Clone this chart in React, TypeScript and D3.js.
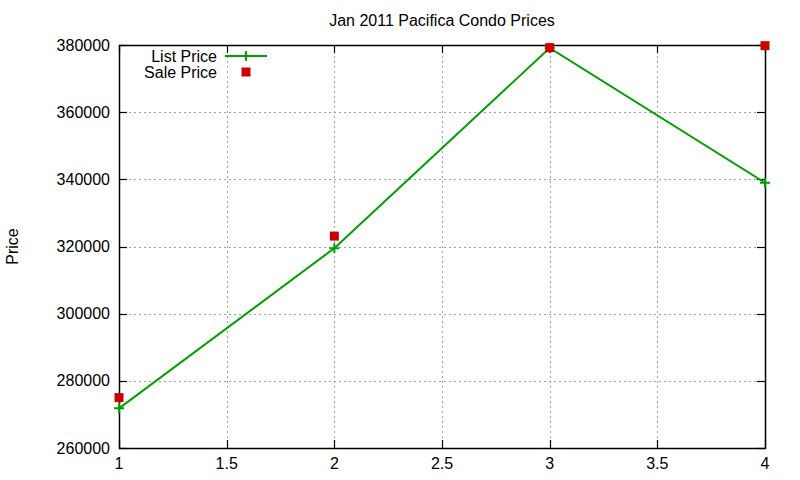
import React, { useEffect, useRef } from 'react';
import * as d3 from 'd3';

// Data
const months: number[] = [1, 2, 3, 4];
const listPrices: number[] = [271800, 319500, 379100, 339000];
const salePrices: number[] = [275000, 323100, 379200, 379800];

const xTicks: number[] = [1, 1.5, 2, 2.5, 3, 3.5, 4];
const yTicks: number[] = [260000, 280000, 300000, 320000, 340000, 360000, 380000];

const title = 'Jan 2011 Pacifica Condo Prices';
const yLabel = 'Price';
const seriesNames: string[] = ['List Price', 'Sale Price'];

const GREEN = '#00a000';
const RED = '#cc0000';

const App: React.FC = () => {
  const svgRef = useRef<SVGSVGElement>(null);

  useEffect(() => {
    if (!svgRef.current) return;
    const svg = d3.select(svgRef.current);
    svg.selectAll('*').remove();

    const width = 800;
    const height = 480;
    const margin = { top: 45, right: 35, bottom: 32, left: 119 };
    const font = 'Liberation Sans, Arial, sans-serif';
    const fontSize = '16px';

    const x = d3.scaleLinear().domain([1, 4]).range([margin.left, width - margin.right]);
    const y = d3.scaleLinear().domain([260000, 380000]).range([height - margin.bottom, margin.top]);

    svg.append('rect').attr('width', width).attr('height', height).style('fill', '#fff');

    // Grid lines
    const grid = svg.append('g').attr('class', 'grid');
    grid.selectAll('.gx')
      .data(xTicks.slice(1, -1))
      .enter().append('line')
      .attr('x1', d => Math.round(x(d)) + 0.5).attr('x2', d => Math.round(x(d)) + 0.5)
      .attr('y1', y.range()[0]).attr('y2', y.range()[1])
      .style('stroke', '#a0a0a0')
      .style('stroke-width', 1)
      .style('stroke-dasharray', '2,3');
    grid.selectAll('.gy')
      .data(yTicks.slice(1, -1))
      .enter().append('line')
      .attr('x1', x.range()[0]).attr('x2', x.range()[1])
      .attr('y1', d => Math.round(y(d)) + 0.5).attr('y2', d => Math.round(y(d)) + 0.5)
      .style('stroke', '#a0a0a0')
      .style('stroke-width', 1)
      .style('stroke-dasharray', '2,3');

    // Border box
    svg.append('rect')
      .attr('x', x.range()[0] + 0.5)
      .attr('y', y.range()[1] + 0.5)
      .attr('width', x.range()[1] - x.range()[0])
      .attr('height', y.range()[0] - y.range()[1])
      .style('fill', 'none')
      .style('stroke', '#000')
      .style('stroke-width', 1.5);

    // Inward ticks (mirrored)
    const tickLen = 8;
    const ticks = svg.append('g').style('stroke', '#000').style('stroke-width', 1.2);
    yTicks.forEach(t => {
      const yy = Math.round(y(t)) + 0.5;
      ticks.append('line').attr('x1', x.range()[0]).attr('x2', x.range()[0] + tickLen).attr('y1', yy).attr('y2', yy);
      ticks.append('line').attr('x1', x.range()[1]).attr('x2', x.range()[1] - tickLen).attr('y1', yy).attr('y2', yy);
    });
    xTicks.forEach(t => {
      const xx = Math.round(x(t)) + 0.5;
      ticks.append('line').attr('x1', xx).attr('x2', xx).attr('y1', y.range()[0]).attr('y2', y.range()[0] - tickLen);
      ticks.append('line').attr('x1', xx).attr('x2', xx).attr('y1', y.range()[1]).attr('y2', y.range()[1] + tickLen);
    });

    // Tick labels
    svg.selectAll('.ylab')
      .data(yTicks)
      .enter().append('text')
      .attr('x', x.range()[0] - 9)
      .attr('y', d => y(d))
      .attr('dy', '0.35em')
      .attr('text-anchor', 'end')
      .style('font-family', font)
      .style('font-size', fontSize)
      .text(d => String(d));

    svg.selectAll('.xlab')
      .data(xTicks)
      .enter().append('text')
      .attr('x', d => x(d))
      .attr('y', y.range()[0] + 21)
      .attr('text-anchor', 'middle')
      .style('font-family', font)
      .style('font-size', fontSize)
      .text(d => String(d));

    // Title and axis label
    svg.append('text')
      .attr('x', (x.range()[0] + x.range()[1]) / 2)
      .attr('y', 26)
      .attr('text-anchor', 'middle')
      .style('font-family', font)
      .style('font-size', fontSize)
      .text(title);

    svg.append('text')
      .attr('transform', `translate(18, ${(y.range()[0] + y.range()[1]) / 2}) rotate(-90)`)
      .attr('text-anchor', 'middle')
      .style('font-family', font)
      .style('font-size', fontSize)
      .text(yLabel);

    // List price line + plus markers
    const line = d3.line<number>()
      .x((_, i) => x(months[i]))
      .y(d => y(d));

    svg.append('path')
      .datum(listPrices)
      .attr('d', line)
      .style('fill', 'none')
      .style('stroke', GREEN)
      .style('stroke-width', 2);

    const plus = (g: d3.Selection<SVGGElement, unknown, null, undefined>, cx: number, cy: number) => {
      g.append('path')
        .attr('d', `M${cx - 5},${cy}H${cx + 5}M${cx},${cy - 5}V${cy + 5}`)
        .style('stroke', GREEN)
        .style('stroke-width', 2)
        .style('fill', 'none');
    };

    const marks = svg.append('g');
    listPrices.forEach((v, i) => plus(marks, x(months[i]), y(v)));

    // Sale price squares
    svg.selectAll('.sale')
      .data(salePrices)
      .enter().append('rect')
      .attr('x', (_, i) => x(months[i]) - 4.5)
      .attr('y', d => y(d) - 4.5)
      .attr('width', 9)
      .attr('height', 9)
      .style('fill', RED);

    // Legend
    const legend = svg.append('g');
    seriesNames.forEach((name, i) => {
      const ly = 56 + i * 16;
      legend.append('text')
        .attr('x', 217)
        .attr('y', ly)
        .attr('dy', '0.35em')
        .attr('text-anchor', 'end')
        .style('font-family', font)
        .style('font-size', fontSize)
        .text(name);
    });
    legend.append('line')
      .attr('x1', 225).attr('x2', 267).attr('y1', 56).attr('y2', 56)
      .style('stroke', GREEN).style('stroke-width', 2);
    plus(legend, 246, 56);
    legend.append('rect')
      .attr('x', 246 - 4.5).attr('y', 72 - 4.5)
      .attr('width', 9).attr('height', 9)
      .style('fill', RED);
  }, []);

  return (
    <svg
      ref={svgRef}
      width={800}
      height={480}
      style={{ position: 'absolute', left: 0, top: 0, background: '#fff' }}
    />
  );
};

export default App;
